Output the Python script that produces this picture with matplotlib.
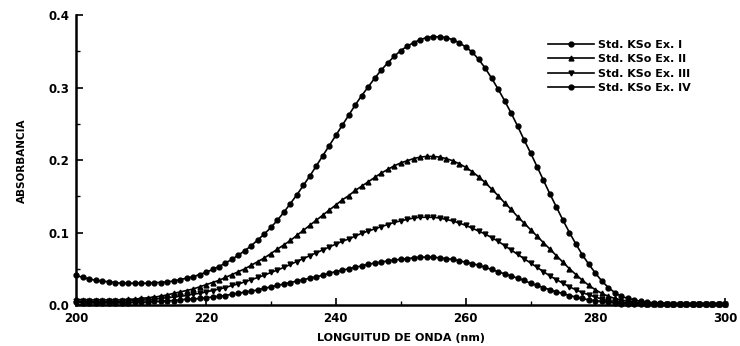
import matplotlib
matplotlib.use("Agg")
import matplotlib.pyplot as plt
from matplotlib.ticker import MultipleLocator, FormatStrFormatter

plt.rcParams['font.family'] = ['DejaVu Sans']

# longitud de onda (nm), one reading per nm
wavelength = list(range(200, 301))

ex_i = [0.041, 0.038, 0.036, 0.034, 0.033, 0.032, 0.031, 0.030, 0.030, 0.030,
        0.030, 0.030, 0.031, 0.031, 0.032, 0.033, 0.035, 0.037, 0.039, 0.042,
        0.045, 0.049, 0.053, 0.058, 0.063, 0.069, 0.075, 0.082, 0.090, 0.098,
        0.107, 0.117, 0.128, 0.140, 0.152, 0.165, 0.178, 0.192, 0.206, 0.220,
        0.234, 0.248, 0.262, 0.276, 0.289, 0.301, 0.313, 0.324, 0.334, 0.343,
        0.351, 0.357, 0.362, 0.366, 0.369, 0.370, 0.370, 0.369, 0.366, 0.362,
        0.356, 0.349, 0.339, 0.327, 0.313, 0.298, 0.282, 0.265, 0.247, 0.228,
        0.210, 0.191, 0.172, 0.153, 0.135, 0.117, 0.100, 0.084, 0.069, 0.056,
        0.044, 0.033, 0.024, 0.017, 0.012, 0.009, 0.007, 0.005, 0.004, 0.003,
        0.003, 0.002, 0.002, 0.002, 0.002, 0.002, 0.002, 0.002, 0.002, 0.002, 0.002]

ex_ii = [0.008, 0.007, 0.007, 0.007, 0.007, 0.007, 0.007, 0.007, 0.008, 0.008,
         0.009, 0.010, 0.011, 0.012, 0.014, 0.016, 0.018, 0.020, 0.022, 0.025,
         0.028, 0.031, 0.034, 0.038, 0.042, 0.046, 0.050, 0.055, 0.060, 0.065,
         0.071, 0.077, 0.083, 0.089, 0.096, 0.103, 0.110, 0.117, 0.124, 0.131,
         0.138, 0.145, 0.151, 0.158, 0.164, 0.170, 0.176, 0.182, 0.187, 0.192,
         0.196, 0.199, 0.202, 0.204, 0.205, 0.205, 0.204, 0.202, 0.199, 0.195,
         0.190, 0.184, 0.177, 0.169, 0.160, 0.151, 0.141, 0.132, 0.122, 0.113,
         0.104, 0.095, 0.086, 0.077, 0.068, 0.059, 0.050, 0.042, 0.034, 0.027,
         0.021, 0.016, 0.012, 0.009, 0.007, 0.005, 0.004, 0.003, 0.002, 0.002,
         0.002, 0.002, 0.002, 0.002, 0.002, 0.002, 0.002, 0.002, 0.002, 0.002, 0.002]

ex_iii = [0.006, 0.005, 0.005, 0.005, 0.005, 0.005, 0.005, 0.005, 0.006, 0.006,
          0.007, 0.007, 0.008, 0.009, 0.010, 0.011, 0.012, 0.013, 0.015, 0.016,
          0.018, 0.020, 0.022, 0.024, 0.027, 0.029, 0.032, 0.035, 0.038, 0.041,
          0.045, 0.048, 0.052, 0.056, 0.060, 0.064, 0.068, 0.072, 0.076, 0.080,
          0.084, 0.088, 0.091, 0.095, 0.099, 0.102, 0.105, 0.108, 0.111, 0.114,
          0.116, 0.118, 0.120, 0.121, 0.121, 0.121, 0.120, 0.118, 0.116, 0.113,
          0.110, 0.106, 0.102, 0.098, 0.093, 0.088, 0.082, 0.076, 0.070, 0.064,
          0.058, 0.052, 0.046, 0.040, 0.035, 0.030, 0.025, 0.021, 0.017, 0.014,
          0.011, 0.008, 0.006, 0.005, 0.004, 0.003, 0.002, 0.002, 0.002, 0.002,
          0.002, 0.002, 0.002, 0.002, 0.002, 0.002, 0.002, 0.002, 0.002, 0.002, 0.002]

ex_iv = [0.004, 0.003, 0.003, 0.003, 0.003, 0.003, 0.003, 0.003, 0.003, 0.004,
         0.004, 0.004, 0.005, 0.005, 0.006, 0.006, 0.007, 0.008, 0.008, 0.009,
         0.010, 0.011, 0.012, 0.013, 0.015, 0.016, 0.018, 0.019, 0.021, 0.023,
         0.025, 0.027, 0.029, 0.031, 0.033, 0.035, 0.037, 0.039, 0.041, 0.044,
         0.046, 0.048, 0.050, 0.052, 0.054, 0.056, 0.058, 0.059, 0.061, 0.062,
         0.063, 0.064, 0.065, 0.066, 0.066, 0.066, 0.065, 0.064, 0.063, 0.061,
         0.059, 0.057, 0.055, 0.052, 0.049, 0.046, 0.043, 0.040, 0.037, 0.034,
         0.030, 0.027, 0.024, 0.021, 0.018, 0.016, 0.013, 0.011, 0.009, 0.007,
         0.006, 0.005, 0.004, 0.003, 0.002, 0.002, 0.002, 0.002, 0.002, 0.002,
         0.002, 0.002, 0.002, 0.002, 0.002, 0.002, 0.002, 0.002, 0.002, 0.002, 0.002]

labels = ['Std. KSo Ex. I', 'Std. KSo Ex. II', 'Std. KSo Ex. III', 'Std. KSo Ex. IV']
markers = ['o', '^', 'v', 'o']


fig = plt.figure(figsize=(7.4, 3.46), dpi=100)
ax = fig.add_axes([0.103, 0.1185, 0.877, 0.838])

for series, m, lab in zip([ex_i, ex_ii, ex_iii, ex_iv], markers, labels):
    ax.plot(wavelength, series, color='black', linewidth=1.2, marker=m,
            markersize=3.5, markerfacecolor='black', markeredgecolor='black',
            label=lab, clip_on=False)

ax.set_xlim(200, 300)
ax.set_ylim(0, 0.4)

ax.spines['top'].set_visible(False)
ax.spines['right'].set_visible(False)
ax.spines['left'].set_linewidth(1.8)
ax.spines['bottom'].set_linewidth(1.8)

ax.xaxis.set_major_locator(MultipleLocator(20))
ax.xaxis.set_minor_locator(MultipleLocator(10))
ax.yaxis.set_major_locator(MultipleLocator(0.1))
ax.yaxis.set_minor_locator(MultipleLocator(0.05))
ax.yaxis.set_major_formatter(FormatStrFormatter('%.1f'))

ax.tick_params(which='major', direction='in', length=5, width=1.2, pad=5)
ax.tick_params(which='minor', direction='in', length=3, width=1.0)
ax.tick_params(axis='x', which='major', pad=5)
for t in ax.get_xticklabels() + ax.get_yticklabels():
    t.set_fontsize(8.5)
    t.set_fontweight('bold')

ax.set_xlabel('LONGUITUD DE ONDA (nm)', fontsize=8, fontweight='bold', labelpad=6)
fig.text(0.029, 0.535, 'ABSORBANCIA', rotation=90, ha='center', va='center',
         fontsize=7.5, fontweight='bold',
         family=['Liberation Sans Narrow', 'DejaVu Sans'])

leg = ax.legend(loc='upper left', bbox_to_anchor=(0.740, 0.885),
                bbox_transform=fig.transFigure, frameon=False,
                fontsize=8, handlelength=4.2, handletextpad=0.3,
                labelspacing=0.4, borderpad=0, borderaxespad=0)
for t in leg.get_texts():
    t.set_fontweight('bold')

fig.savefig('out.png', dpi=100)
